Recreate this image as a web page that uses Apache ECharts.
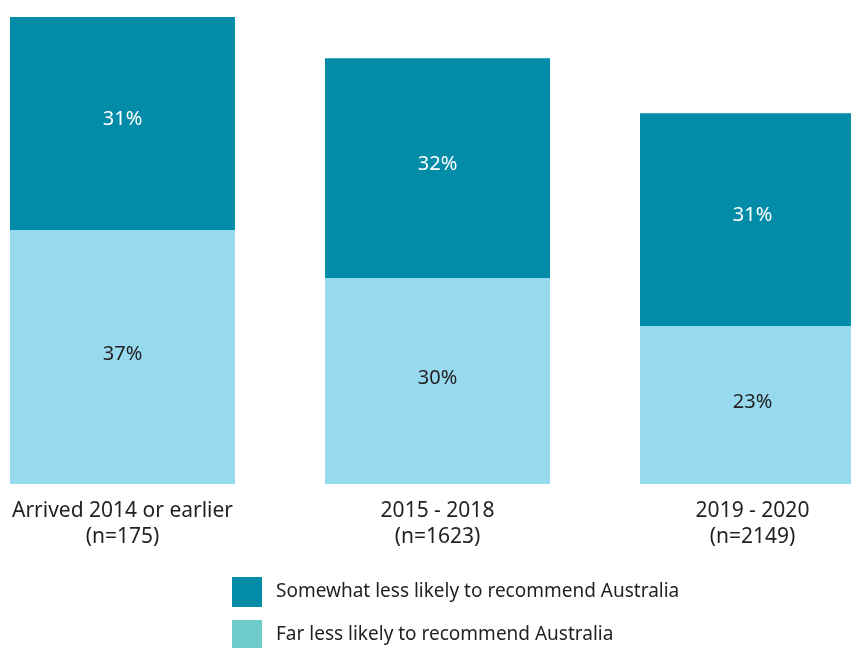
<!DOCTYPE html>
<html>
<head>
<meta charset="utf-8">
<script src="https://cdn.jsdelivr.net/npm/echarts@6/dist/echarts.min.js"></script>
<style>
  html, body { margin: 0; padding: 0; background: #fff; }
  #chart { width: 851px; height: 648px; }
</style>
</head>
<body>
<div id="chart"></div>
<script>
const categories = ["Arrived 2014 or earlier\n(n=175)", "2015 - 2018\n(n=1623)", "2019 - 2020\n(n=2149)"];
const farLess = [37, 30, 23];
const somewhatLess = [31, 32, 31];
const seriesNames = ["Somewhat less likely to recommend Australia", "Far less likely to recommend Australia"];

const chart = echarts.init(document.getElementById("chart"));

const textColor = "#231F20";
const font = "'Noto Sans', sans-serif";

// one legend per entry so the second row is not pushed into a new column
const legendBase = {
  orient: "vertical",
  left: 232,
  padding: 0,
  itemWidth: 30,
  itemHeight: 30,
  icon: "rect",
  selectedMode: false,
  textStyle: { fontSize: 19, color: textColor, fontFamily: font, padding: [3, 0, 0, 9] },
};

const options = {
  animation: false,
  grid: { left: -35, width: 945, top: 17, bottom: 164, outerBoundsMode: "none", containLabel: false },
  legend: [
    Object.assign({}, legendBase, {
      top: 577,
      data: [{ name: seriesNames[0], itemStyle: { color: "#028CA7" } }],
    }),
    Object.assign({}, legendBase, {
      top: 620,
      data: [{ name: seriesNames[1], itemStyle: { color: "#6DCBCA" } }],
    }),
  ],
  xAxis: {
    type: "category",
    data: categories,
    axisLine: { show: false },
    axisTick: { show: false },
    axisLabel: {
      margin: 14,
      fontSize: 21,
      lineHeight: 26,
      color: textColor,
      fontFamily: font,
    },
  },
  yAxis: { type: "value", min: 0, max: 68, show: false },
  series: [
    {
      name: seriesNames[1],
      type: "bar",
      stack: "total",
      barWidth: 225,
      data: farLess,
      itemStyle: { color: "#97D9EF" },
      label: {
        show: true,
        position: "inside",
        offset: [0, -3],
        formatter: "{c}%",
        fontSize: 20,
        color: textColor,
        fontFamily: font,
      },
    },
    {
      name: seriesNames[0],
      type: "bar",
      stack: "total",
      barWidth: 225,
      data: somewhatLess,
      itemStyle: { color: "#028CA7" },
      label: {
        show: true,
        position: "inside",
        offset: [0, -4],
        formatter: "{c}%",
        fontSize: 20,
        color: "#ffffff",
        fontFamily: font,
      },
    },
  ],
};

chart.setOption(options);
</script>
</body>
</html>
